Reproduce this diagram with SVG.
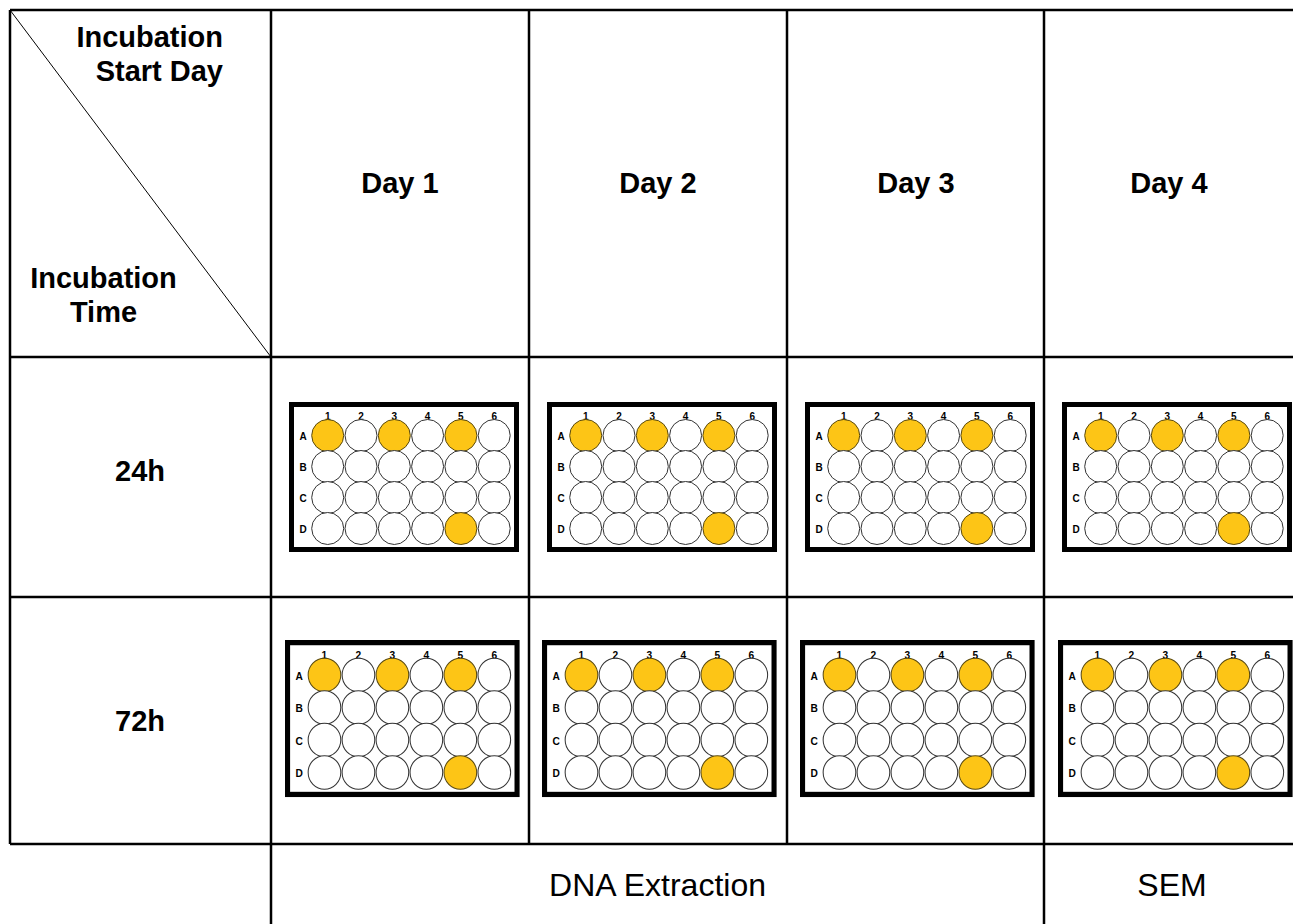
<svg xmlns="http://www.w3.org/2000/svg" xmlns:xlink="http://www.w3.org/1999/xlink" width="1293" height="924" viewBox="0 0 1293 924">
<style>
.grid{stroke:#000;stroke-width:2.5;fill:none}
.hdr{font-family:"Liberation Sans",Arial,sans-serif;font-weight:bold;font-size:29px;fill:#000}
.reg{font-family:"Liberation Sans",Arial,sans-serif;font-size:32px;fill:#000}
.pl{font-family:"Liberation Sans",Arial,sans-serif;font-weight:bold;font-size:10px;fill:#000}
.w{fill:#fff;stroke:#333;stroke-width:1}
.y{fill:#FDC516;stroke:#5a4a10;stroke-width:1}
</style>
<defs>
<g id="plate">
<rect x="2.5" y="2.5" width="225" height="145" fill="#fff" stroke="#000" stroke-width="5"/>
<g class="pl" text-anchor="middle">
<text x="38.7" y="18">1</text><text x="72" y="18">2</text><text x="105.3" y="18">3</text><text x="138.6" y="18">4</text><text x="171.9" y="18">5</text><text x="205.2" y="18">6</text>
<text x="14" y="38">A</text><text x="14" y="69">B</text><text x="14" y="100">C</text><text x="14" y="131">D</text>
</g>
<circle class="y" cx="38.7" cy="33.5" r="16"/><circle class="w" cx="72" cy="33.5" r="16"/><circle class="y" cx="105.3" cy="33.5" r="16"/><circle class="w" cx="138.6" cy="33.5" r="16"/><circle class="y" cx="171.9" cy="33.5" r="16"/><circle class="w" cx="205.2" cy="33.5" r="16"/>
<circle class="w" cx="38.7" cy="64.5" r="16"/><circle class="w" cx="72" cy="64.5" r="16"/><circle class="w" cx="105.3" cy="64.5" r="16"/><circle class="w" cx="138.6" cy="64.5" r="16"/><circle class="w" cx="171.9" cy="64.5" r="16"/><circle class="w" cx="205.2" cy="64.5" r="16"/>
<circle class="w" cx="38.7" cy="95.5" r="16"/><circle class="w" cx="72" cy="95.5" r="16"/><circle class="w" cx="105.3" cy="95.5" r="16"/><circle class="w" cx="138.6" cy="95.5" r="16"/><circle class="w" cx="171.9" cy="95.5" r="16"/><circle class="w" cx="205.2" cy="95.5" r="16"/>
<circle class="w" cx="38.7" cy="126.5" r="16"/><circle class="w" cx="72" cy="126.5" r="16"/><circle class="w" cx="105.3" cy="126.5" r="16"/><circle class="w" cx="138.6" cy="126.5" r="16"/><circle class="y" cx="171.9" cy="126.5" r="16"/><circle class="w" cx="205.2" cy="126.5" r="16"/>
</g>
</defs>
<rect width="1293" height="924" fill="#fff"/>
<g id="connectors">
<path class="grid" d="M10,10H1293M10,357H1293M10,597H1293M10,844H1293M10,10V844M271,10V924M529,10V844M787,10V844M1044,10V924"/>
<line x1="10" y1="10" x2="271" y2="357" stroke="#000" stroke-width="1"/>
</g>
<g id="corner">
<text class="hdr" x="223" y="47" text-anchor="end">Incubation</text>
<text class="hdr" x="223" y="81" text-anchor="end">Start Day</text>
<text class="hdr" x="103.5" y="288" text-anchor="middle">Incubation</text>
<text class="hdr" x="103.5" y="322" text-anchor="middle">Time</text>
</g>
<g id="day1"><text class="hdr" x="400" y="193" text-anchor="middle">Day 1</text></g>
<g id="day2"><text class="hdr" x="658" y="193" text-anchor="middle">Day 2</text></g>
<g id="day3"><text class="hdr" x="916" y="193" text-anchor="middle">Day 3</text></g>
<g id="day4"><text class="hdr" x="1169" y="193" text-anchor="middle">Day 4</text></g>
<g id="row24"><text class="hdr" x="140" y="481" text-anchor="middle">24h</text></g>
<g id="row72"><text class="hdr" x="140" y="731" text-anchor="middle">72h</text></g>
<g id="p24-1"><use xlink:href="#plate" transform="translate(289,402)"/></g>
<g id="p24-2"><use xlink:href="#plate" transform="translate(547,402)"/></g>
<g id="p24-3"><use xlink:href="#plate" transform="translate(805,402)"/></g>
<g id="p24-4"><use xlink:href="#plate" transform="translate(1062,402)"/></g>
<g id="p72-1"><use xlink:href="#plate" transform="translate(285,640) scale(1.02,1.047)"/></g>
<g id="p72-2"><use xlink:href="#plate" transform="translate(542,640) scale(1.02,1.047)"/></g>
<g id="p72-3"><use xlink:href="#plate" transform="translate(800,640) scale(1.02,1.047)"/></g>
<g id="p72-4"><use xlink:href="#plate" transform="translate(1058,640) scale(1.02,1.047)"/></g>
<g id="dna"><text class="reg" x="657.5" y="896" text-anchor="middle">DNA Extraction</text></g>
<g id="sem"><text class="reg" x="1172" y="896" text-anchor="middle">SEM</text></g>
</svg>
